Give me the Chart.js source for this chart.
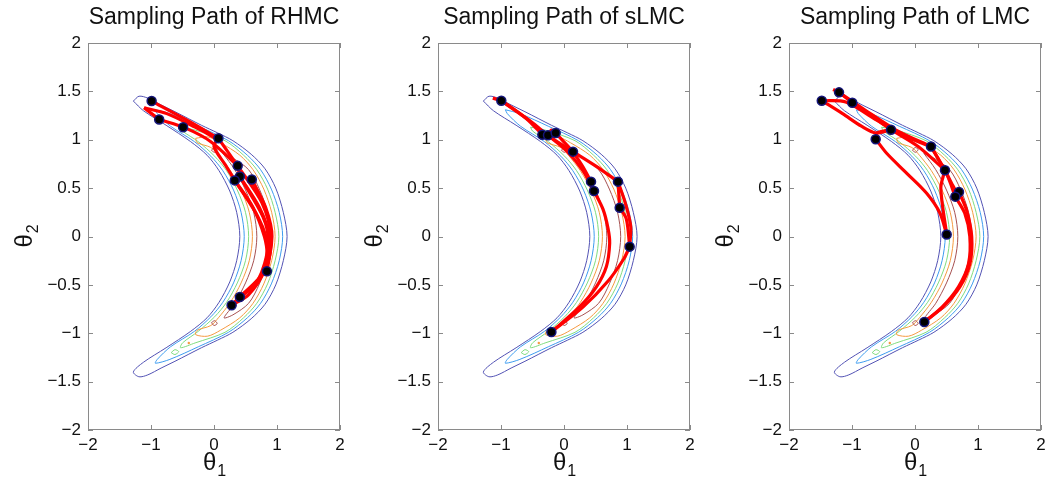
<!DOCTYPE html>
<html>
<head>
<meta charset="utf-8">
<script src="https://cdn.jsdelivr.net/npm/chart.js@4.4.1/dist/chart.umd.min.js"></script>
<style>
  body { margin: 0; background: #fff; overflow: hidden; }
  canvas { position: absolute; top: 0; }
</style>
</head>
<body>
<canvas id="c0" width="350" height="485" style="left:0px"></canvas>
<canvas id="c1" width="350" height="485" style="left:350px"></canvas>
<canvas id="c2" width="350" height="485" style="left:701px"></canvas>
<script>
// axis ticks and titles
const xTicks = [-2, -1, 0, 1, 2];
const yTicks = [-2, -1.5, -1, -0.5, 0, 0.5, 1, 1.5, 2];
const titles = ['Sampling Path of RHMC', 'Sampling Path of sLMC', 'Sampling Path of LMC'];

// contour lines of the target density (same in all three panels)
const contourBlue = [[-1.28,1.40],[-1.19,1.45],[-1.05,1.43],[-0.84,1.36],[-0.62,1.29],[-0.20,1.15],[0.06,1.07],[0.30,0.99],[0.59,0.85],[0.81,0.70],[0.98,0.50],[1.10,0.25],[1.16,0],[1.10,-0.25],[0.98,-0.50],[0.81,-0.70],[0.59,-0.85],[0.30,-0.99],[0.06,-1.07],[-0.20,-1.15],[-0.62,-1.29],[-0.84,-1.36],[-1.05,-1.43],[-1.19,-1.45],[-1.28,-1.40],[-1.12,-1.30],[-0.76,-1.15],[-0.37,-0.98],[-0.11,-0.84],[0.08,-0.68],[0.25,-0.47],[0.36,-0.25],[0.41,0],[0.36,0.25],[0.25,0.47],[0.08,0.68],[-0.11,0.84],[-0.37,0.98],[-0.76,1.15],[-1.12,1.30],[-1.28,1.40]];
const contourCyan = [[-0.93,1.31],[-0.70,1.27],[-0.25,1.14],[0.23,0.99],[0.53,0.84],[0.74,0.69],[0.91,0.49],[1.035,0.25],[1.09,0],[1.035,-0.25],[0.91,-0.49],[0.74,-0.69],[0.53,-0.84],[0.23,-0.99],[-0.25,-1.14],[-0.70,-1.27],[-0.93,-1.31],[-0.90,-1.27],[-0.69,-1.14],[-0.31,-0.98],[-0.05,-0.83],[0.14,-0.68],[0.31,-0.48],[0.43,-0.25],[0.48,0],[0.43,0.25],[0.31,0.48],[0.14,0.68],[-0.05,0.83],[-0.31,0.98],[-0.69,1.14],[-0.90,1.27],[-0.93,1.31]];
const contourGreen = [[-0.53,1.13],[-0.30,1.10],[0.175,0.99],[0.47,0.84],[0.68,0.69],[0.85,0.49],[0.97,0.25],[1.03,0],[0.97,-0.25],[0.85,-0.49],[0.68,-0.69],[0.47,-0.84],[0.175,-0.99],[-0.30,-1.10],[-0.53,-1.15],[-0.50,-1.10],[-0.25,-0.98],[0.01,-0.83],[0.20,-0.68],[0.37,-0.48],[0.50,-0.25],[0.55,0],[0.50,0.25],[0.37,0.48],[0.20,0.68],[0.01,0.83],[-0.25,0.98],[-0.50,1.09],[-0.53,1.13]];
const contourOrange = [[-0.29,1.015],[-0.10,1.03],[0.10,0.97],[0.41,0.84],[0.62,0.69],[0.79,0.49],[0.915,0.25],[0.97,0],[0.915,-0.25],[0.79,-0.49],[0.62,-0.69],[0.41,-0.84],[0.10,-0.97],[-0.10,-1.03],[-0.29,-1.015],[-0.27,-0.97],[-0.05,-0.92],[0.07,-0.84],[0.26,-0.68],[0.43,-0.48],[0.56,-0.25],[0.61,0],[0.56,0.25],[0.43,0.48],[0.26,0.68],[0.07,0.84],[-0.05,0.92],[-0.27,0.97],[-0.29,1.015]];
const contourBrown = [[0.14,0.86],[0.30,0.81],[0.55,0.69],[0.72,0.49],[0.85,0.25],[0.90,0],[0.85,-0.25],[0.72,-0.49],[0.55,-0.69],[0.30,-0.81],[0.16,-0.84],[0.33,-0.69],[0.50,-0.48],[0.63,-0.25],[0.68,0],[0.63,0.25],[0.50,0.48],[0.33,0.69],[0.14,0.86]];
const brownIslandTop = [[-0.04,0.89],[0.0,0.92],[0.05,0.90],[0.01,0.87],[-0.04,0.89]];
const brownIslandBottom = [[-0.04,-0.89],[0.0,-0.92],[0.05,-0.90],[0.01,-0.87],[-0.04,-0.89]];
const greenIsland = [[-0.68,-1.20],[-0.62,-1.17],[-0.56,-1.19],[-0.62,-1.22],[-0.68,-1.20]];
const orangeSpecks = [[-0.39,1.10],[-0.40,-1.10]];

// RHMC
const rhmcSamples = [[-0.99,1.40],[-0.87,1.21],[-0.49,1.13],[0.07,1.015],[0.376,0.73],[0.41,0.62],[0.33,0.58],[0.60,0.59],[0.84,-0.36],[0.41,-0.625],[0.28,-0.71]];
const rhmcPaths = [
  [[-0.99,1.40],[-0.45,1.21],[0.07,1.015]],
  [[-1.11,1.33],[-0.87,1.21]],
  [[-1.11,1.33],[-0.75,1.27],[-0.3,1.13],[0.07,1.0]],
  [[-0.87,1.21],[-0.45,1.12],[-0.05,0.98],[0.376,0.73]],
  [[0.07,1.015],[0.0,0.93],[0.18,0.74],[0.33,0.58]],
  [[0.07,1.015],[0.376,0.73]],
  [[0.376,0.73],[0.41,0.62]],
  [[0.33,0.58],[0.62,0.30],[0.80,0.0],[0.85,-0.2],[0.84,-0.36]],
  [[0.41,0.62],[0.72,0.3],[0.88,0.0],[0.84,-0.3],[0.62,-0.52],[0.41,-0.625]],
  [[0.376,0.73],[0.76,0.35],[0.90,0.0],[0.80,-0.35],[0.55,-0.6],[0.28,-0.71]],
  [[0.60,0.59],[0.82,0.3],[0.92,0.0],[0.80,-0.36],[0.41,-0.625]],
  [[0.60,0.59],[0.86,0.2],[0.90,-0.1],[0.84,-0.36]],
  [[0.33,0.58],[0.70,0.2],[0.85,-0.1],[0.70,-0.45],[0.41,-0.625]],
  [[0.41,-0.625],[0.28,-0.71]],
  [[0.41,0.62],[0.78,0.2],[0.86,-0.05],[0.75,-0.40],[0.28,-0.71]]
];

// sLMC
const slmcSamples = [[-0.995,1.404],[-0.344,1.052],[-0.254,1.046],[-0.132,1.07],[0.143,0.877],[0.429,0.567],[0.476,0.47],[0.857,0.567],[0.884,0.298],[1.042,-0.105],[-0.20,-0.987]];
const slmcPaths = [
  [[-1.13,1.43],[-0.995,1.404]],
  [[-0.995,1.404],[-0.6,1.22],[-0.344,1.052]],
  [[-0.995,1.404],[-0.55,1.2],[-0.2,1.02],[0.143,0.877]],
  [[-0.344,1.052],[-0.254,1.046],[-0.2,1.1],[-0.132,1.07]],
  [[-0.132,1.07],[0.143,0.877]],
  [[0.143,0.877],[0.3,0.72],[0.429,0.567]],
  [[-0.254,1.046],[0.05,0.88],[0.3,0.68],[0.476,0.47]],
  [[0.476,0.47],[0.62,0.28],[0.70,0.08],[0.725,-0.07],[0.673,-0.31],[0.514,-0.52],[0.25,-0.725],[-0.20,-0.987]],
  [[-0.20,-0.987],[0.3,-0.73],[0.7,-0.46],[0.95,-0.23],[1.042,-0.105]],
  [[1.042,-0.105],[1.06,0.1],[0.98,0.33],[0.857,0.567]],
  [[0.857,0.567],[0.884,0.298]],
  [[0.884,0.298],[0.99,0.18],[1.042,-0.105]],
  [[0.143,0.877],[0.5,0.73],[0.857,0.567]]
];

// LMC
const lmcSamples = [[-1.48,1.404],[-1.206,1.49],[-0.995,1.383],[-0.381,1.104],[-0.624,1.006],[0.254,0.93],[0.476,0.685],[0.698,0.46],[0.64,0.412],[0.503,0.02],[0.148,-0.884]];
const lmcPaths = [
  [[-1.30,1.52],[-1.206,1.49]],
  [[-1.206,1.49],[-0.8,1.31],[-0.3,1.10],[0.254,0.93]],
  [[-1.206,1.49],[-0.995,1.383],[-0.7,1.25],[-0.381,1.104]],
  [[-1.48,1.404],[-1.1,1.39],[-0.6,1.2],[-0.1,1.02],[0.254,0.93]],
  [[-1.48,1.404],[-1.15,1.27],[-0.85,1.14],[-0.62,1.07],[-0.381,1.104]],
  [[-0.624,1.006],[-0.60,1.07],[-0.50,1.09],[-0.381,1.104]],
  [[-0.381,1.104],[0.05,0.93],[0.476,0.685]],
  [[-0.624,1.006],[-0.45,0.86],[-0.13,0.653],[0.185,0.446],[0.397,0.24],[0.503,0.02]],
  [[0.254,0.93],[0.476,0.685]],
  [[0.254,0.93],[0.5,0.65],[0.64,0.412]],
  [[0.476,0.685],[0.41,0.5],[0.503,0.02]],
  [[0.476,0.685],[0.58,0.55],[0.64,0.47],[0.60,0.43],[0.64,0.412],[0.698,0.46]],
  [[0.698,0.46],[0.82,0.27],[0.90,0.0],[0.873,-0.277],[0.714,-0.519],[0.45,-0.725],[0.148,-0.884]],
  [[0.64,0.412],[0.79,0.24],[0.87,0.0],[0.85,-0.28],[0.69,-0.52],[0.43,-0.73],[0.148,-0.884]]
];

const FONT = "'Liberation Sans', Arial, Helvetica, sans-serif";
Chart.defaults.font.family = FONT;

const xy = pts => pts.map(p => ({ x: p[0], y: p[1] }));
const minus = v => String(v).replace('-', '\u2212');

function contour(pts, color) {
  return { data: xy(pts), showLine: true, borderColor: color, borderWidth: 1, pointRadius: 0, tension: 0.3, order: 3 };
}

// box + inward tick marks, like matlab axes
const framePlugin = {
  id: 'frame',
  afterDatasetsDraw(chart) {
    const { ctx, chartArea: a, scales } = chart;
    ctx.save();
    ctx.strokeStyle = '#8a8a8a';
    ctx.lineWidth = 1;
    ctx.strokeRect(a.left + 0.5, a.top + 0.5, a.right - a.left - 1, a.bottom - a.top - 1);
    ctx.beginPath();
    xTicks.forEach(v => {
      const px = Math.round(scales.x.getPixelForValue(v)) + 0.5;
      ctx.moveTo(px, a.bottom); ctx.lineTo(px, a.bottom - 5);
      ctx.moveTo(px, a.top); ctx.lineTo(px, a.top + 5);
    });
    yTicks.forEach(v => {
      const py = Math.round(scales.y.getPixelForValue(v)) + 0.5;
      ctx.moveTo(a.left, py); ctx.lineTo(a.left + 5, py);
      ctx.moveTo(a.right, py); ctx.lineTo(a.right - 5, py);
    });
    ctx.stroke();
    ctx.restore();
  }
};

function subLabel(ctx, base, sub, cx, baseline) {
  ctx.font = '24px ' + FONT;
  const w1 = ctx.measureText(base).width;
  ctx.font = '16px ' + FONT;
  const w2 = ctx.measureText(sub).width;
  const x0 = cx - (w1 + w2) / 2;
  ctx.textAlign = 'left';
  ctx.textBaseline = 'alphabetic';
  ctx.font = '24px ' + FONT;
  ctx.fillText(base, x0, baseline);
  ctx.font = '16px ' + FONT;
  ctx.fillText(sub, x0 + w1 + 1, baseline + 6);
}

const textPlugin = {
  id: 'texts',
  afterDraw(chart) {
    const { ctx, chartArea: a } = chart;
    const cx = (a.left + a.right) / 2;
    const cy = (a.top + a.bottom) / 2;
    ctx.save();
    ctx.fillStyle = '#111';
    ctx.font = '23px ' + FONT;
    ctx.textAlign = 'center';
    ctx.textBaseline = 'alphabetic';
    ctx.fillText(chart.options.plugins.texts.title, cx, 24);
    subLabel(ctx, '\u03b8', '1', cx, 470);
    ctx.translate(32, cy);
    ctx.rotate(-Math.PI / 2);
    subLabel(ctx, '\u03b8', '2', 0, 0);
    ctx.restore();
  }
};

function makeChart(id, title, paths, samples) {
  const datasets = [
    { data: xy(samples), showLine: false, pointRadius: 4.5, pointBackgroundColor: '#000',
      pointBorderColor: '#14147a', pointBorderWidth: 1.5, order: 0 },
    ...paths.map(p => ({ data: xy(p), showLine: true, borderColor: '#ff0000', borderWidth: 3.2,
      pointRadius: 0, tension: 0.3, order: 1 })),
    { data: xy(orangeSpecks), showLine: false, pointRadius: 1.2, pointBackgroundColor: '#f59a40',
      pointBorderWidth: 0, order: 3 },
    contour(brownIslandTop, '#a65050'),
    contour(brownIslandBottom, '#a65050'),
    contour(greenIsland, '#7fdc7f'),
    contour(contourBrown, '#a65050'),
    contour(contourOrange, '#f59a40'),
    contour(contourGreen, '#7fdc7f'),
    contour(contourCyan, '#3d9cf0'),
    contour(contourBlue, '#5252b4')
  ];
  new Chart(document.getElementById(id), {
    type: 'scatter',
    data: { datasets },
    options: {
      responsive: false,
      animation: false,
      events: [],
      layout: { padding: { left: 0, right: 10, top: 43, bottom: 0 } },
      plugins: { legend: { display: false }, tooltip: { enabled: false }, texts: { title } },
      scales: {
        x: {
          type: 'linear', min: -2, max: 2,
          grid: { display: false, drawTicks: false },
          border: { display: false },
          ticks: { stepSize: 1, padding: 5, color: '#111', font: { size: 17 }, callback: minus },
          afterFit: s => { s.height = 55; }
        },
        y: {
          type: 'linear', min: -2, max: 2,
          grid: { display: false, drawTicks: false },
          border: { display: false },
          ticks: { stepSize: 0.5, padding: 7, color: '#111', font: { size: 17 }, callback: minus },
          afterFit: s => { s.width = 88; }
        }
      }
    },
    plugins: [framePlugin, textPlugin]
  });
}

makeChart('c0', titles[0], rhmcPaths, rhmcSamples);
makeChart('c1', titles[1], slmcPaths, slmcSamples);
makeChart('c2', titles[2], lmcPaths, lmcSamples);
</script>
</body>
</html>
